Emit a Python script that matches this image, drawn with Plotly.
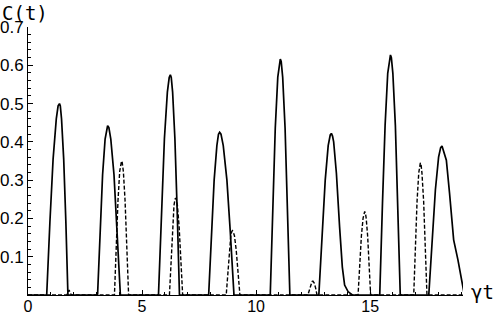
import plotly.graph_objects as go

# Solid curve (gamma t, C(t))
solid_x = [0.0, 0.82, 0.96, 1.10, 1.24, 1.32, 1.38, 1.417, 1.47, 1.565, 1.66, 1.75,
           3.05, 3.16, 3.27, 3.38, 3.45, 3.49, 3.546, 3.63, 3.77, 3.91, 4.05,
           5.72, 5.85, 5.98, 6.11, 6.19, 6.24, 6.28, 6.34, 6.44, 6.54, 6.64,
           7.92, 8.04, 8.16, 8.28, 8.35, 8.40, 8.46, 8.56, 8.72, 8.87, 9.03,
           10.62, 10.73, 10.84, 10.95, 11.02, 11.06, 11.10, 11.165, 11.27, 11.375, 11.48,
           12.75, 12.89, 13.03, 13.16, 13.25, 13.30, 13.35, 13.40, 13.52, 13.66, 13.78, 13.88, 14.03, 14.22,
           15.42, 15.54, 15.655, 15.77, 15.85, 15.89, 15.93, 15.995, 16.105, 16.21, 16.32,
           17.57, 17.72, 17.86, 18.00, 18.09, 18.15, 18.20, 18.34, 18.48, 18.66, 18.85, 19.04, 19.13]
solid_y = [0.0, 0.0, 0.19, 0.355, 0.46, 0.494, 0.50, 0.494, 0.46, 0.355, 0.19, 0.0,
           0.0, 0.169, 0.314, 0.407, 0.437, 0.442, 0.437, 0.407, 0.314, 0.169, 0.0,
           0.0, 0.22, 0.408, 0.53, 0.568, 0.575, 0.568, 0.53, 0.408, 0.22, 0.0,
           0.0, 0.163, 0.30, 0.39, 0.42, 0.425, 0.42, 0.39, 0.30, 0.163, 0.0,
           0.0, 0.236, 0.436, 0.569, 0.61, 0.616, 0.61, 0.569, 0.436, 0.236, 0.0,
           0.0, 0.162, 0.30, 0.39, 0.418, 0.422, 0.415, 0.40, 0.318, 0.178, 0.073, 0.026, 0.009, 0.0,
           0.0, 0.24, 0.443, 0.579, 0.62, 0.627, 0.62, 0.579, 0.443, 0.24, 0.0,
           0.0, 0.149, 0.275, 0.36, 0.385, 0.389, 0.38, 0.352, 0.266, 0.144, 0.091, 0.022, 0.0]

# Dashed curve
dashed_x = [0.0, 1.70, 1.80, 1.90,
            3.79, 3.87, 3.945, 4.02, 4.07, 4.10, 4.13, 4.18, 4.255, 4.33, 4.41,
            6.20, 6.27, 6.335, 6.40, 6.445, 6.47, 6.50, 6.55, 6.625, 6.70, 6.78,
            8.69, 8.76, 8.825, 8.89, 8.935, 8.96, 8.99, 9.05, 9.125, 9.21, 9.29,
            12.27, 12.38, 12.45, 12.49, 12.55, 12.61, 12.67,
            14.47, 14.54, 14.615, 14.69, 14.73, 14.76, 14.79, 14.825, 14.89, 14.955, 15.02,
            16.91, 16.98, 17.055, 17.13, 17.17, 17.20, 17.23, 17.27, 17.345, 17.42, 17.49,
            19.13]
dashed_y = [0.0, 0.0, 0.013, 0.0,
            0.0, 0.134, 0.247, 0.323, 0.346, 0.35, 0.346, 0.323, 0.247, 0.134, 0.0,
            0.0, 0.097, 0.179, 0.234, 0.25, 0.253, 0.25, 0.234, 0.179, 0.097, 0.0,
            0.0, 0.064, 0.119, 0.155, 0.166, 0.168, 0.166, 0.155, 0.119, 0.064, 0.0,
            0.0, 0.025, 0.035, 0.036, 0.031, 0.018, 0.0,
            0.0, 0.083, 0.154, 0.201, 0.215, 0.218, 0.215, 0.201, 0.154, 0.083, 0.0,
            0.0, 0.132, 0.244, 0.319, 0.341, 0.345, 0.341, 0.319, 0.244, 0.132, 0.0,
            0.0]

x_ticks = [0, 5, 10, 15]
x_tick_labels = ["0", "5", "10", "15"]
y_ticks = [0.1, 0.2, 0.3, 0.4, 0.5, 0.6, 0.7]
y_tick_labels = ["0.1", "0.2", "0.3", "0.4", "0.5", "0.6", "0.7"]

fig = go.Figure()
fig.add_trace(go.Scatter(x=dashed_x, y=dashed_y, mode="lines",
                         line=dict(color="black", width=1.4, dash="4px,2px"),
                         showlegend=False, hoverinfo="skip"))
fig.add_trace(go.Scatter(x=solid_x, y=solid_y, mode="lines",
                         line=dict(color="black", width=1.7),
                         showlegend=False, hoverinfo="skip"))

yfont = dict(family="Liberation Sans, Arial, sans-serif", size=17, color="black")
xfont = dict(family="Liberation Sans, Arial, sans-serif", size=16, color="black")
fig.update_layout(
    width=497, height=315,
    margin=dict(l=28, r=34, t=27, b=20),
    paper_bgcolor="white", plot_bgcolor="white",
    xaxis=dict(range=[0, 19.07], showgrid=False, zeroline=False, automargin=False,
               showline=True, linecolor="black", linewidth=1,
               ticks="inside", ticklen=5, tickcolor="black", tickwidth=1,
               tickvals=x_ticks, ticktext=x_tick_labels, tickfont=xfont,
               ticklabelstandoff=-3,
               minor=dict(ticks="inside", ticklen=3, dtick=1, tickcolor="black", tick0=0)),
    yaxis=dict(range=[0, 0.7], showgrid=False, zeroline=False, automargin=False,
               showline=True, linecolor="black", linewidth=1,
               ticks="inside", ticklen=5, tickcolor="black", tickwidth=1,
               tickvals=y_ticks, ticktext=y_tick_labels, tickfont=yfont,
               minor=dict(ticks="inside", ticklen=3, dtick=0.02, tickcolor="black", tick0=0)),
    annotations=[
        dict(text="C(t)", xref="paper", yref="paper", x=-0.064, y=1.10,
             xanchor="left", yanchor="top", showarrow=False,
             font=dict(family="DejaVu Sans Mono, monospace", size=19, color="black")),
        dict(text="γt", xref="paper", yref="paper", x=1.014, y=0.01,
             xanchor="left", yanchor="middle", showarrow=False,
             font=dict(family="DejaVu Sans Mono, monospace", size=19, color="black")),
    ],
)

fig.write_html("out.html", config={"displayModeBar": False},
               post_script="document.body.style.margin='0';document.body.style.overflow='hidden';")
